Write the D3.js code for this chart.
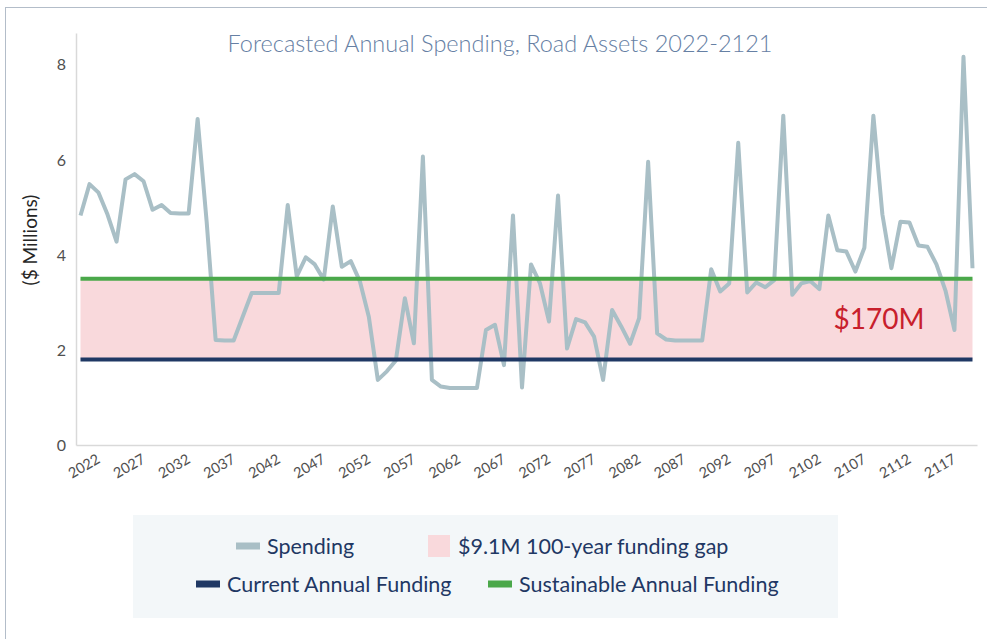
<!DOCTYPE html>
<html>
<head>
<meta charset="utf-8">
<script src="https://cdn.jsdelivr.net/npm/d3@7"></script>
<style>
  body { margin: 0; background: #fff; }
  svg { display: block; font-family: Lato, "Open Sans", sans-serif; }
</style>
</head>
<body>
<div id="chart"></div>
<script>
(function() {

    var width = 987;
    var height = 639;

    // years 2022..2121
    var years = d3.range(2022, 2122);
    var tickYears = d3.range(2022, 2122, 5);
    var yTicks = [0, 2, 4, 6, 8];

    // spending, $ millions
    var spending = [
        4.83, 5.49, 5.31, 4.85, 4.28, 5.59, 5.70, 5.55, 4.95, 5.05,
        4.88, 4.87, 4.87, 6.86, 4.70, 2.21, 2.20, 2.20, 2.70, 3.20,
        3.20, 3.20, 3.20, 5.05, 3.55, 3.95, 3.80, 3.48, 5.02, 3.75,
        3.87, 3.45, 2.70, 1.37, 1.55, 1.78, 3.09, 2.14, 6.07, 1.37,
        1.23, 1.20, 1.20, 1.20, 1.20, 2.42, 2.53, 1.68, 4.83, 1.21,
        3.80, 3.40, 2.60, 5.25, 2.03, 2.65, 2.58, 2.28, 1.37, 2.84,
        2.50, 2.13, 2.67, 5.96, 2.35, 2.22, 2.20, 2.20, 2.20, 2.20,
        3.70, 3.23, 3.40, 6.36, 3.21, 3.42, 3.32, 3.47, 6.93, 3.16,
        3.40, 3.45, 3.28, 4.83, 4.10, 4.07, 3.65, 4.15, 6.93, 4.85,
        3.72, 4.70, 4.68, 4.20, 4.17, 3.80, 3.25, 2.42, 8.17, 3.72
    ];

    var currentFunding = 1.8;
    var sustainableFunding = 3.5;
    var gapLabel = "$170M";

    var legendLabels = ["Spending", "$9.1M 100-year funding gap", "Current Annual Funding", "Sustainable Annual Funding"];
    var legendColors = ["#a9bfc6", "#f9d9dc", "#1f3864", "#4aa84a"];

    var svg = d3.select("#chart")
        .append("svg")
        .attr("width", width)
        .attr("height", height);

    // outer frame
    svg.append("rect")
        .attr("x", 5.5).attr("y", 7.5)
        .attr("width", 1000).attr("height", 700)
        .attr("fill", "none")
        .attr("stroke", "#b3bdc9")
        .attr("stroke-width", 1);

    var x = d3.scalePoint()
        .domain(years)
        .range([76, 977])
        .padding(0.5);

    var y = d3.scaleLinear()
        .domain([0, 8.67])
        .range([445, 33]);

    // funding gap band
    svg.append("rect")
        .attr("x", x(2022))
        .attr("width", x(2121) - x(2022))
        .attr("y", y(sustainableFunding))
        .attr("height", y(currentFunding) - y(sustainableFunding))
        .attr("fill", legendColors[1]);

    // axes
    var yAxis = svg.append("g")
        .attr("transform", "translate(76,0)")
        .call(d3.axisLeft(y).tickValues(yTicks).tickSize(0).tickPadding(10).tickFormat(d3.format("d")));
    yAxis.select(".domain").attr("stroke", "#d9d9d9").attr("stroke-width", 1.5);
    yAxis.selectAll("text")
        .attr("font-size", 16)
        .attr("fill", "#505050")
        .attr("font-family", "Lato, sans-serif");

    var xAxis = svg.append("g")
        .attr("transform", "translate(0,445)")
        .call(d3.axisBottom(x).tickValues(tickYears).tickSize(0));
    xAxis.select(".domain").attr("stroke", "#d9d9d9").attr("stroke-width", 1.5);
    xAxis.selectAll("text")
        .attr("y", 0)
        .attr("dy", "0.35em")
        .attr("text-anchor", "middle")
        .attr("transform", "translate(3,21) rotate(-30)")
        .attr("font-size", 14.5)
        .attr("fill", "#505050")
        .attr("font-family", "Lato, sans-serif");

    // spending line
    var line = d3.line()
        .x(function(d, i) { return x(years[i]); })
        .y(function(d) { return y(d); });

    svg.append("path")
        .datum(spending)
        .attr("d", line)
        .attr("fill", "none")
        .attr("stroke", legendColors[0])
        .attr("stroke-width", 4)
        .attr("stroke-linejoin", "round");

    // funding lines
    [[sustainableFunding, legendColors[3]], [currentFunding, legendColors[2]]].forEach(function(f) {
        svg.append("line")
            .attr("x1", x(2022)).attr("x2", x(2121))
            .attr("y1", y(f[0])).attr("y2", y(f[0]))
            .attr("stroke", f[1])
            .attr("stroke-width", 4);
    });

    svg.append("text")
        .attr("x", 879)
        .attr("y", y((sustainableFunding + currentFunding) / 2) + 10)
        .attr("text-anchor", "middle")
        .attr("font-size", 28)
        .attr("fill", "#c8202c")
        .text(gapLabel);

    // title
    svg.append("text")
        .attr("x", 500)
        .attr("y", 52)
        .attr("text-anchor", "middle")
        .attr("font-size", 23.5)
        .attr("font-weight", 300)
        .attr("fill", "#6680a4")
        .text("Forecasted Annual Spending, Road Assets 2022-2121");

    // y axis title
    svg.append("text")
        .attr("transform", "translate(37,240) rotate(-90)")
        .attr("text-anchor", "middle")
        .attr("font-size", 19)
        .attr("fill", "#262626")
        .text("($ Millions)");

    // legend
    var legend = svg.append("g");
    legend.append("rect")
        .attr("x", 133).attr("y", 515)
        .attr("width", 705).attr("height", 103)
        .attr("fill", "#f3f7f9");

    var slots = [[236, 546], [428, 546], [196, 584], [488, 584]];
    legendLabels.forEach(function(label, i) {
        var s = slots[i];
        if (i === 1) {
            legend.append("rect")
                .attr("x", s[0]).attr("y", s[1] - 11)
                .attr("width", 22).attr("height", 22)
                .attr("fill", legendColors[i]);
        } else {
            legend.append("rect")
                .attr("x", s[0]).attr("y", s[1] - 3.5)
                .attr("width", 24).attr("height", 7)
                .attr("fill", legendColors[i]);
        }
        legend.append("text")
            .attr("x", s[0] + (i === 1 ? 30 : 31))
            .attr("y", s[1])
            .attr("dy", "0.35em")
            .attr("font-size", 21.5)
            .attr("fill", "#1f3864")
            .text(label);
    });

})();
</script>
</body>
</html>
